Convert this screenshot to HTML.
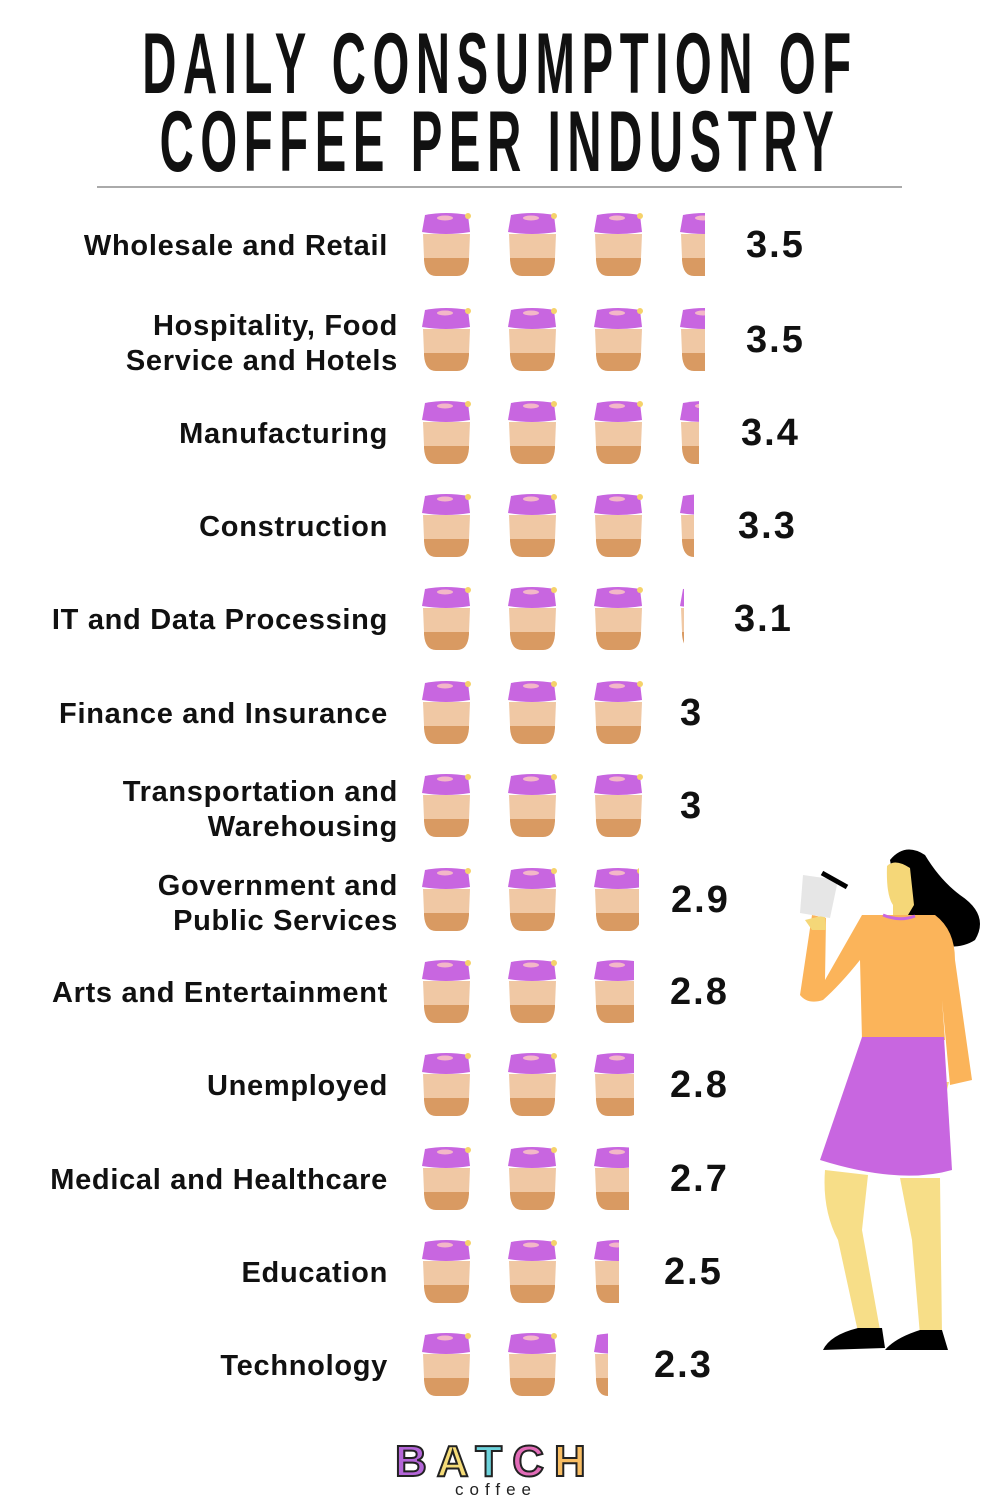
<!DOCTYPE html>
<html><head><meta charset="utf-8"><style>
body{margin:0;background:#fff;}
#c{position:relative;width:1000px;height:1500px;overflow:hidden;background:#fff;font-family:"Liberation Sans",sans-serif;}
.t{position:absolute;left:-200px;width:1400px;text-align:center;white-space:nowrap;font-family:"Liberation Sans Narrow","Liberation Sans",sans-serif;font-weight:bold;font-size:86px;line-height:88px;letter-spacing:12px;color:#111;transform:scale(0.55,1);transform-origin:700px 0;}
.lab{position:absolute;text-align:right;font-weight:bold;font-size:29px;letter-spacing:0.7px;color:#111;line-height:35px;white-space:nowrap;}
.val{position:absolute;font-size:38px;letter-spacing:2px;font-weight:bold;color:#111;}
.cw{position:absolute;overflow:hidden;height:66px;}
</style></head><body><div id="c">
<div class="t" style="top:20px;">DAILY CONSUMPTION OF</div>
<div class="t" style="top:98px;">COFFEE PER INDUSTRY</div>
<div style="position:absolute;left:97px;top:186px;width:805px;height:2px;background:#aaa;"></div>
<svg width="0" height="0" style="position:absolute"><defs>
<g id="cup">
<path d="M3 25 L48 25 L48 48 Q47 64 36 64 L15 64 Q4 64 3 48 Z" fill="#d99a62"/>
<path d="M2 22 L49 22 L48 46 L3 46 Z" fill="#f0c8a4"/>
<path d="M4 3 Q25 -1 47 3 L49 20 Q25 24 1 20 Z" fill="#c866e0"/>
<ellipse cx="24" cy="6" rx="8" ry="2.5" fill="#f3b7c8"/>
<circle cx="47" cy="4" r="3" fill="#f5d26a"/>
</g></defs></svg>
<div id="rows"></div>
<svg style="position:absolute;left:0;top:0" width="1000" height="1500">
<path d="M890 860 Q905 842 925 855 Q940 880 960 895 Q990 915 975 940 Q960 950 935 945 Q910 935 900 915 Z" fill="#000"/>
<path d="M887 866 Q895 858 910 868 L914 905 L908 915 L893 915 L893 905 Q886 895 887 866 Z" fill="#f5d778"/>
<path d="M862 915 L935 915 Q955 930 955 960 L972 1080 L950 1085 L942 1000 L945 1040 L862 1040 L860 960 Q840 985 823 1000 Q808 1005 800 995 L812 915 L826 918 L825 980 Z" fill="#fbb45a"/>
<path d="M883 915 Q900 922 915 916" stroke="#c866e0" stroke-width="3" fill="none"/>
<path d="M949 1082 Q945 1100 935 1120 L916 1128 L930 1100 L937 1082 Z" fill="#f5d778"/>
<path d="M805 920 L825 915 L826 930 L812 930 Z" fill="#f5d778"/>
<path d="M803 875 L838 880 L830 918 L800 913 Z" fill="#e6e6e6"/>
<path d="M822 873 L847 887" stroke="#000" stroke-width="5"/>
<path d="M862 1037 L944 1037 L952 1170 Q900 1185 820 1160 Z" fill="#c866e0"/>
<path d="M825 1170 L868 1175 L862 1230 L880 1330 L858 1332 L838 1240 Q822 1210 825 1170 Z" fill="#f7de88"/>
<path d="M900 1178 L940 1178 L942 1335 L920 1335 L912 1240 Z" fill="#f7de88"/>
<path d="M858 1328 L882 1328 L885 1348 L823 1350 Q830 1335 858 1328 Z" fill="#000"/>
<path d="M920 1330 L942 1330 L948 1350 L885 1350 Q895 1338 920 1330 Z" fill="#000"/>
</svg>
<div style="position:absolute;left:395px;top:1437px;font-size:44px;font-weight:bold;letter-spacing:10px;-webkit-text-stroke:2px #222;">
<span style="color:#b466d8">B</span><span style="color:#f5dc78">A</span><span style="color:#6dd3dc">T</span><span style="color:#e26cb8">C</span><span style="color:#f8bd63">H</span></div>
<div style="position:absolute;left:455px;top:1480px;font-size:17px;letter-spacing:6px;color:#222;">coffee</div>
</div>
<script>
var d=[["Wholesale and Retail",3.5,247,746],["Hospitality, Food<br>Service and Hotels",3.5,342,746],["Manufacturing",3.4,435,741],["Construction",3.3,528,738],["IT and Data Processing",3.1,621,734],["Finance and Insurance",3,715,680],["Transportation and<br>Warehousing",3,808,680],["Government and<br>Public Services",2.9,902,671],["Arts and Entertainment",2.8,994,670],["Unemployed",2.8,1087,670],["Medical and Healthcare",2.7,1181,670],["Education",2.5,1274,664],["Technology",2.3,1367,654]];
var h="";
d.forEach(function(r){
 var two=r[0].indexOf("<br>")>=0;
 h+='<div class="lab" style="top:'+(r[2]-(two?33:18))+'px;right:'+(two?602:612)+'px">'+r[0]+'</div>';
 var v=r[1];
 for(var i=0;i<4;i++){var f=Math.min(1,v-i);if(f<=0)break;
  var w=Math.round(f*51)+(f<1?0:2);
  h+='<div class="cw" style="left:'+(421+86*i)+'px;top:'+(r[2]-35)+'px;width:'+w+'px"><svg width="53" height="66"><use href="#cup"/></svg></div>';}
 h+='<div class="val" style="left:'+r[3]+'px;top:'+(r[2]-23)+'px">'+v+'</div>';
});
document.getElementById("rows").innerHTML=h;
</script>
</body></html>
